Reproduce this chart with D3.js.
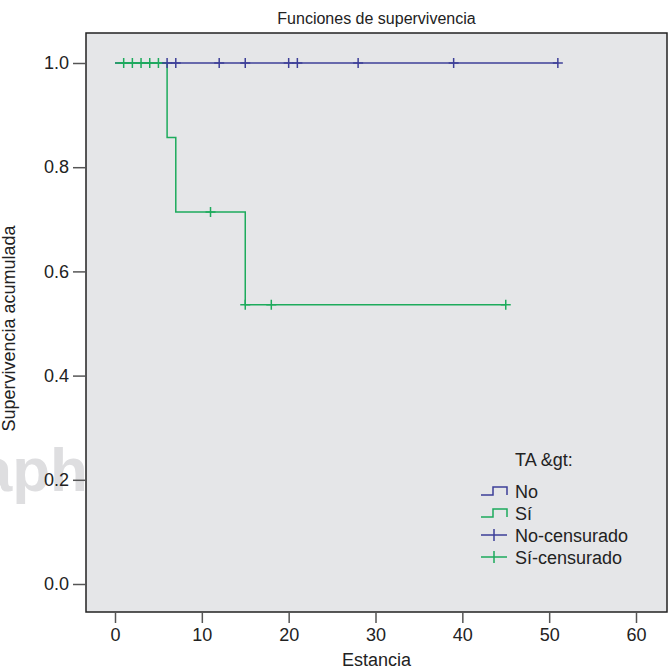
<!DOCTYPE html>
<html>
<head>
<meta charset="utf-8">
<script src="https://cdn.jsdelivr.net/npm/d3@7"></script>
<style>
  body { margin: 0; background: #fff; }
  svg { display: block; font-family: "Liberation Sans", Arial, sans-serif; }
</style>
</head>
<body>
<svg width="668" height="669"></svg>
<script>
// survival steps
const noSteps = [[0, 1.0], [51, 1.0]];
const siSteps = [[0, 1.0], [6, 0.857], [7, 0.714], [15, 0.536], [45, 0.536]];
const noCensored = [[6, 1], [7, 1], [12, 1], [15, 1], [20, 1], [21, 1], [28, 1], [39, 1], [51, 1]];
const siCensored = [[1, 1], [2, 1], [3, 1], [4, 1], [5, 1], [11, 0.714], [15, 0.536], [18, 0.536], [45, 0.536]];
const xTicks = [0, 10, 20, 30, 40, 50, 60];
const yTicks = [0.0, 0.2, 0.4, 0.6, 0.8, 1.0];
const legendLabels = ["No", "Sí", "No-censurado", "Sí-censurado"];

const blue = "#3d3f98", green = "#1dab5c";

const svg = d3.select("svg");
const frame = { left: 86, right: 667, top: 33, bottom: 612 };

const x = d3.scaleLinear().domain([0, 60]).range([115, 636]);
const y = d3.scaleLinear().domain([0, 1]).range([584, 63]);

// watermark fragment behind the plot
svg.append("text")
    .attr("x", 88).attr("y", 491)
    .attr("text-anchor", "end")
    .style("font-size", "62px").style("font-weight", "bold")
    .attr("fill", "#dedee0")
    .text("aph");

svg.append("rect")
    .attr("x", frame.left).attr("y", frame.top)
    .attr("width", frame.right - frame.left).attr("height", frame.bottom - frame.top)
    .attr("fill", "#e5e6e8").attr("stroke", "#222").attr("stroke-width", 1.5);

svg.append("text")
    .attr("x", (frame.left + frame.right) / 2).attr("y", 24)
    .attr("text-anchor", "middle").style("font-size", "16px").attr("fill", "#222")
    .text("Funciones de supervivencia");

const yAxis = svg.append("g")
    .attr("transform", `translate(${frame.left},0)`)
    .call(d3.axisLeft(y).tickValues(yTicks).tickFormat(d3.format(".1f")).tickSize(13).tickPadding(4));
const xAxis = svg.append("g")
    .attr("transform", `translate(0,${frame.bottom})`)
    .call(d3.axisBottom(x).tickValues(xTicks).tickSize(11).tickPadding(5));

[yAxis, xAxis].forEach(g => {
    g.select(".domain").remove();
    g.selectAll("line").attr("stroke", "#555").attr("stroke-width", 1.5);
    g.selectAll("text").style("font-size", "18px").attr("fill", "#222").attr("font-family", null);
});

svg.append("text")
    .attr("x", (frame.left + frame.right) / 2).attr("y", 666)
    .attr("text-anchor", "middle").style("font-size", "18px").attr("fill", "#222")
    .text("Estancia");

svg.append("text")
    .attr("transform", `translate(15,${(y(0) + y(1)) / 2 + 5}) rotate(-90)`)
    .attr("text-anchor", "middle").style("font-size", "18px").attr("fill", "#222")
    .text("Supervivencia acumulada");

const line = d3.line()
    .x(d => x(d[0])).y(d => y(d[1]))
    .curve(d3.curveStepAfter);

svg.append("path").datum(noSteps)
    .attr("d", line).attr("fill", "none").attr("stroke", blue).attr("stroke-width", 1.5);
svg.append("path").datum(siSteps)
    .attr("d", line).attr("fill", "none").attr("stroke", green).attr("stroke-width", 1.5);

const arm = 5;
function crosses(data, color) {
    const g = svg.append("g").attr("stroke", color).attr("stroke-width", 1.5);
    g.selectAll(".h").data(data).enter().append("line")
        .attr("x1", d => x(d[0]) - arm).attr("x2", d => x(d[0]) + arm)
        .attr("y1", d => y(d[1])).attr("y2", d => y(d[1]));
    g.selectAll(".v").data(data).enter().append("line")
        .attr("x1", d => x(d[0])).attr("x2", d => x(d[0]))
        .attr("y1", d => y(d[1]) - arm).attr("y2", d => y(d[1]) + arm);
}
crosses(siCensored, green);
crosses(noCensored, blue);

// legend
const legend = svg.append("g");
legend.append("text")
    .attr("x", 515).attr("y", 466)
    .style("font-size", "18px").attr("fill", "#222")
    .text("TA &gt:");

const colors = [blue, green, blue, green];
legendLabels.forEach((label, i) => {
    const base = 498 + i * 22;
    const mid = base - 7;
    if (i < 2) {
        legend.append("path")
            .attr("d", `M481,${mid + 4}H493V${mid - 4}H507V${mid + 4}`)
            .attr("fill", "none").attr("stroke", colors[i]).attr("stroke-width", 1.5);
    } else {
        legend.append("path")
            .attr("d", `M481,${mid}H507M494,${mid - 6}V${mid + 6}`)
            .attr("fill", "none").attr("stroke", colors[i]).attr("stroke-width", 1.5);
    }
    legend.append("text")
        .attr("x", 515).attr("y", base)
        .style("font-size", "18px").attr("fill", "#222")
        .text(label);
});
</script>
</body>
</html>
